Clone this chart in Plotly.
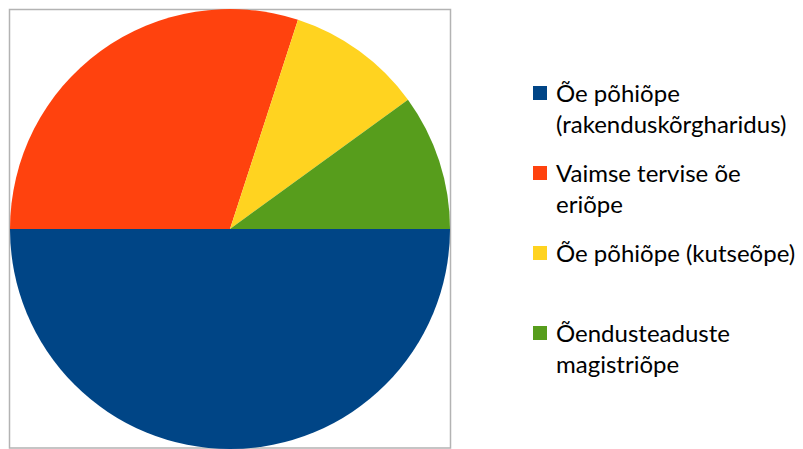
import plotly.graph_objects as go

# slice data
labels = [
    "Õe põhiõpe<br>(rakenduskõrgharidus)",
    "Vaimse tervise õe<br>eriõpe",
    "Õe põhiõpe (kutseõpe)",
    "Õendusteaduste<br>magistriõpe",
]
values = [5, 3, 1, 1]
colors = ["#004586", "#ff420e", "#ffd320", "#579d1c"]

W, H = 803, 449

fig = go.Figure(
    go.Pie(
        labels=labels,
        values=values,
        marker=dict(colors=colors, line=dict(width=0)),
        sort=False,
        direction="clockwise",
        rotation=90,
        textinfo="none",
        showlegend=False,
        domain=dict(x=[10 / W, 450 / W], y=[0, 440 / H]),
    )
)

# grey frame round the chart area
fig.add_shape(
    type="rect", xref="paper", yref="paper",
    x0=9.5 / W, x1=450.5 / W, y0=1 / H, y1=(H - 9.5) / H,
    line=dict(color="#b3b3b3", width=1.5), fillcolor="rgba(0,0,0,0)",
    layer="below",
)

# legend drawn by hand so the entries get the same 80px spacing as the original
for i, (lab, col) in enumerate(zip(labels, colors)):
    yc = 93 + 80 * i
    fig.add_shape(
        type="rect", xref="paper", yref="paper",
        x0=533 / W, x1=547 / W, y0=(H - yc - 7) / H, y1=(H - yc + 7) / H,
        line=dict(width=0), fillcolor=col,
    )
    fig.add_annotation(
        x=555 / W, y=(H - yc + 16) / H, xref="paper", yref="paper",
        xanchor="left", yanchor="top", align="left",
        text=lab, showarrow=False, borderpad=0,
        font=dict(family="Lato", size=24, color="#000000"),
    )

fig.update_layout(
    width=W,
    height=H,
    margin=dict(l=0, r=0, t=0, b=0),
    paper_bgcolor="white",
    font=dict(family="Lato", size=22, color="#000000"),
)

fig.write_html(
    "out.html",
    config={"displayModeBar": False},
    post_script="document.body.style.margin='0';",
)
